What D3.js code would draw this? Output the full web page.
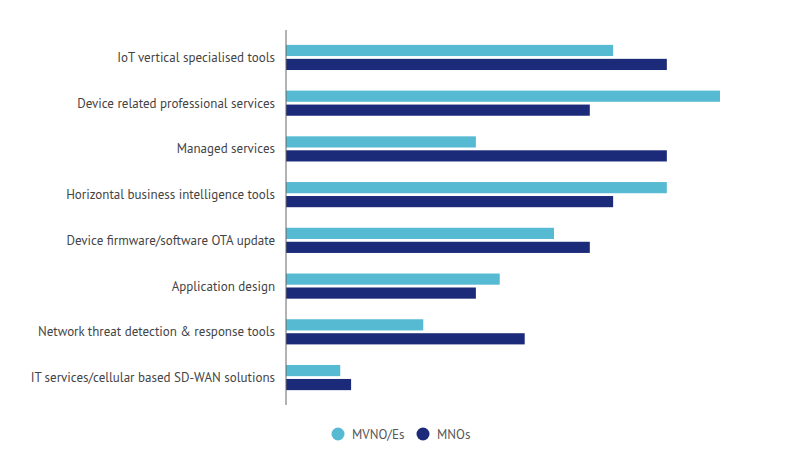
<!DOCTYPE html>
<html>
<head>
<meta charset="utf-8">
<script src="https://cdn.jsdelivr.net/npm/d3@7"></script>
<style>
  body { margin: 0; background: #fff; }
  text { font-family: "PT Sans", Lato, "Noto Sans", sans-serif; }
</style>
</head>
<body>
<svg width="802" height="472"></svg>
<script>
// survey answers, % of respondents
const categories = [
  'IoT vertical specialised tools',
  'Device related professional services',
  'Managed services',
  'Horizontal business intelligence tools',
  'Device firmware/software OTA update',
  'Application design',
  'Network threat detection & response tools',
  'IT services/cellular based SD-WAN solutions'
];
const seriesNames = ['MVNO/Es', 'MNOs'];
const mvnoValues = [60.3, 80, 35, 70.2, 49.4, 39.4, 25.3, 10];
const mnoValues = [70.2, 56, 70.2, 60.3, 56, 35, 44, 12];

const svg = d3.select('svg');

const colorScale = d3.scaleOrdinal()
  .domain(seriesNames)
  .range(['#57bad3', '#1c2a7a']);

const rows = categories.map((c, i) => ({
  category: c,
  values: [
    { key: seriesNames[0], value: mvnoValues[i] },
    { key: seriesNames[1], value: mnoValues[i] }
  ]
}));

const left = 286;
const x = d3.scaleLinear().domain([0, 80]).range([left, 720]);

const y = d3.scaleBand()
  .domain(categories)
  .range([30, 405])
  .paddingInner(0.45)
  .paddingOuter(0.325);

const ySub = d3.scaleBand()
  .domain(seriesNames)
  .range([0, y.bandwidth()])
  .paddingInner(0.2);

const groups = svg.selectAll('g.row')
  .data(rows)
  .enter().append('g')
    .attr('class', 'row')
    .attr('transform', d => `translate(0,${y(d.category)})`);

groups.selectAll('rect')
  .data(d => d.values)
  .enter().append('rect')
    .attr('x', x(0))
    .attr('y', d => ySub(d.key))
    .attr('width', d => x(d.value) - x(0))
    .attr('height', ySub.bandwidth())
    .attr('fill', d => colorScale(d.key));

groups.append('text')
  .attr('x', left - 11)
  .attr('y', y.bandwidth() / 2)
  .attr('dy', '0.35em')
  .attr('text-anchor', 'end')
  .attr('fill', '#444')
  .attr('font-size', 13)
  .text(d => d.category);

// vertical axis line only
svg.append('line')
  .attr('x1', left).attr('x2', left)
  .attr('y1', 30).attr('y2', 405)
  .attr('stroke', '#666')
  .attr('stroke-width', 1);

// legend
const legendX = [338, 423];
const legend = svg.selectAll('g.legend')
  .data(seriesNames)
  .enter().append('g')
    .attr('class', 'legend')
    .attr('transform', (d, i) => `translate(${legendX[i]},434)`);

legend.append('circle')
  .attr('r', 6.5)
  .attr('fill', d => colorScale(d));

legend.append('text')
  .attr('x', 14)
  .attr('dy', '0.35em')
  .attr('fill', '#555')
  .attr('font-size', 13)
  .text(d => d);
</script>
</body>
</html>
